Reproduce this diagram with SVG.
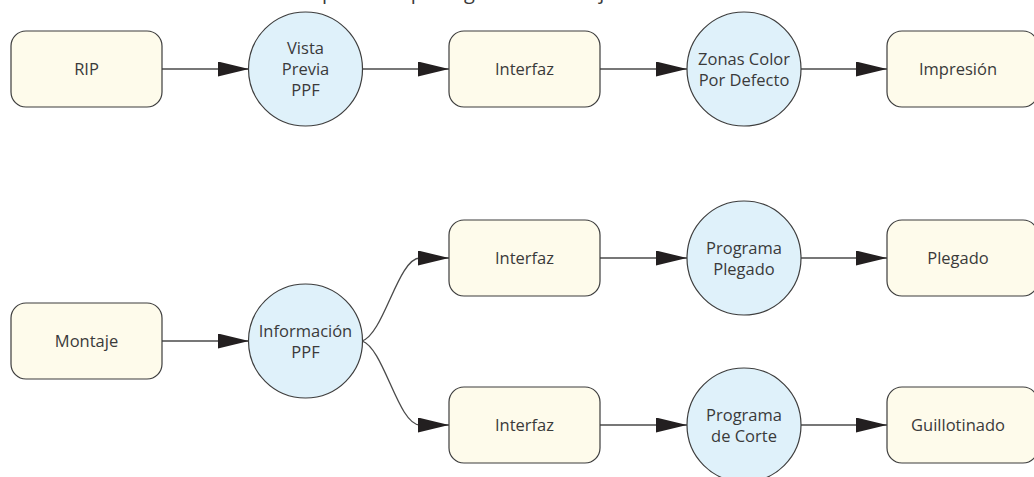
<svg xmlns="http://www.w3.org/2000/svg" width="1034" height="477" viewBox="0 0 1034 477">
<style>
.box{fill:#fefbeb;stroke:#3d3d3d;stroke-width:1.2}
.circ{fill:#dff1fa;stroke:#3d3d3d;stroke-width:1.2}
.lbl{font-family:"Open Sans","Liberation Sans",sans-serif;font-size:16.5px;fill:#3a3a3a;text-anchor:middle}
.title{font-family:"Open Sans","Liberation Sans",sans-serif;font-size:20px;fill:#3a3a3a;text-anchor:middle}
.con{fill:none;stroke:#4a4a4a;stroke-width:1.3;marker-end:url(#ah)}
</style>
<defs>
<marker id="ah" markerUnits="userSpaceOnUse" markerWidth="31" markerHeight="15" refX="31" refY="7.5" orient="auto" viewBox="0 0 31 15">
<path d="M0,0 L31,7.5 L0,15 Z" fill="#231f20"/>
</marker>
</defs>
<rect width="1034" height="477" fill="#ffffff"/>
<text class="title" x="536" y="-1" textLength="428" lengthAdjust="spacing">proceso para generar los ajustes de color</text>

<g id="connectors">
<line class="con" x1="162" y1="69" x2="249" y2="69"/>
<line class="con" x1="362" y1="69" x2="449" y2="69"/>
<line class="con" x1="600" y1="69" x2="687" y2="69"/>
<line class="con" x1="801" y1="69" x2="887" y2="69"/>
<line class="con" x1="162" y1="341" x2="249" y2="341"/>
<path class="con" d="M362,341 C384,334 398,258 420,258 L449,258"/>
<path class="con" d="M362,341 C384,348 398,425 420,425 L449,425"/>
<line class="con" x1="600" y1="258" x2="687" y2="258"/>
<line class="con" x1="801" y1="258" x2="887" y2="258"/>
<line class="con" x1="600" y1="425" x2="687" y2="425"/>
<line class="con" x1="801" y1="425" x2="887" y2="425"/>
</g>

<g id="rip"><rect class="box" x="11" y="31" width="151" height="76" rx="15"/><text class="lbl" x="86.5" y="75">RIP</text></g>
<g id="vista"><circle class="circ" cx="305.5" cy="69" r="57"/><text class="lbl" x="305.5" y="54">Vista</text><text class="lbl" x="305.5" y="75">Previa</text><text class="lbl" x="305.5" y="96">PPF</text></g>
<g id="interfaz1"><rect class="box" x="449" y="31" width="151" height="76" rx="15"/><text class="lbl" x="524.5" y="75">Interfaz</text></g>
<g id="zonas"><circle class="circ" cx="744" cy="69" r="57"/><text class="lbl" x="744" y="64.5">Zonas Color</text><text class="lbl" x="744" y="85.5">Por Defecto</text></g>
<g id="impresion"><rect class="box" x="887" y="31" width="151" height="76" rx="15"/><text class="lbl" x="958" y="75">Impresión</text></g>

<g id="montaje"><rect class="box" x="11" y="303" width="151" height="76" rx="15"/><text class="lbl" x="86.5" y="347">Montaje</text></g>
<g id="informacion"><circle class="circ" cx="305.5" cy="341" r="57"/><text class="lbl" x="305.5" y="336.5">Información</text><text class="lbl" x="305.5" y="357.5">PPF</text></g>

<g id="interfaz2"><rect class="box" x="449" y="220" width="151" height="76" rx="15"/><text class="lbl" x="524.5" y="264">Interfaz</text></g>
<g id="progplegado"><circle class="circ" cx="744" cy="258" r="57"/><text class="lbl" x="744" y="253.5">Programa</text><text class="lbl" x="744" y="274.5">Plegado</text></g>
<g id="plegado"><rect class="box" x="887" y="220" width="151" height="76" rx="15"/><text class="lbl" x="958" y="264">Plegado</text></g>

<g id="interfaz3"><rect class="box" x="449" y="387" width="151" height="76" rx="15"/><text class="lbl" x="524.5" y="431">Interfaz</text></g>
<g id="progcorte"><circle class="circ" cx="744" cy="425" r="57"/><text class="lbl" x="744" y="420.5">Programa</text><text class="lbl" x="744" y="441.5">de Corte</text></g>
<g id="guillotinado"><rect class="box" x="887" y="387" width="151" height="76" rx="15"/><text class="lbl" x="958" y="431">Guillotinado</text></g>
</svg>
